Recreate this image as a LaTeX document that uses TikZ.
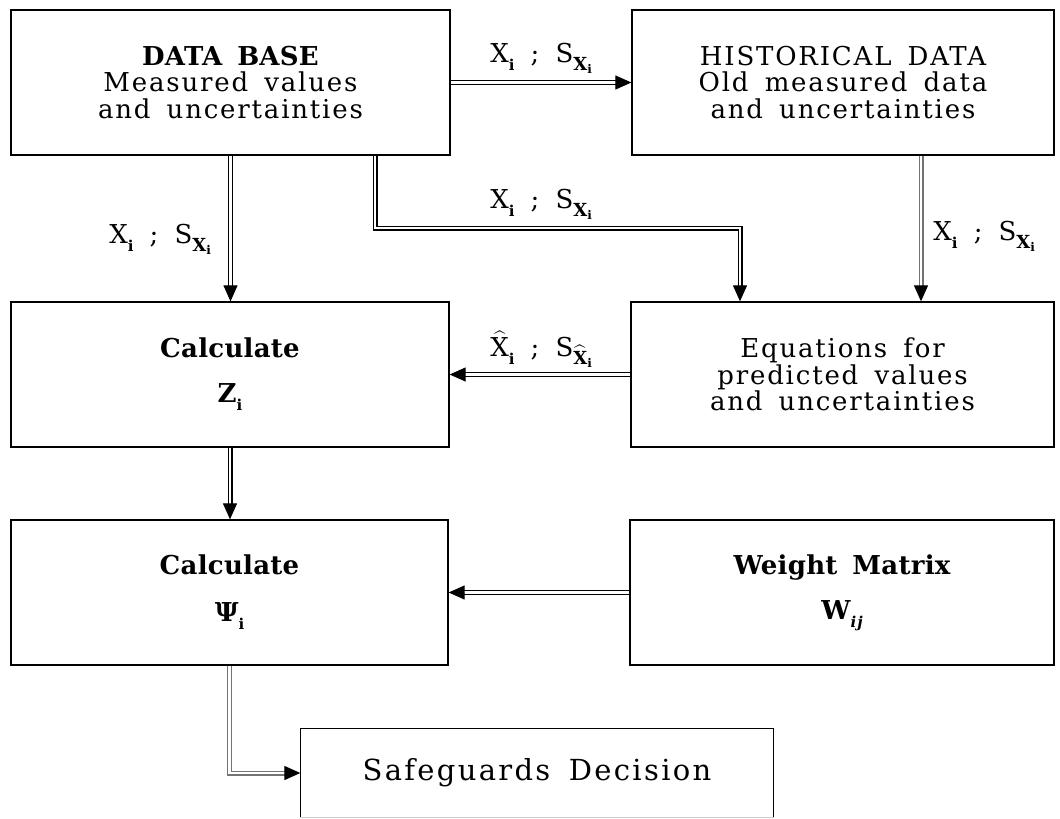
\documentclass[tikz,border=0pt]{standalone}
\usepackage{fontspec}
\setmainfont{DejaVu Serif}[LetterSpace=7, WordSpace=1.6]
\newfontfamily\hvy{DejaVu Serif Bold}[LetterSpace=1, WordSpace=1.6]
\usetikzlibrary{arrows.meta}
\newcommand\isub{\raisebox{-0.6ex}{\fontsize{7.5}{7.5}\selectfont\bfseries i}}
\newcommand\XiLab{X\isub}
\newcommand\SXi{S\raisebox{-0.6ex}{\fontsize{9}{9}\selectfont\bfseries X\raisebox{-0.35ex}{\fontsize{6}{6}\selectfont i}}}
\newcommand\HXiLab{$\widehat{\hbox{X}}$\isub}
\newcommand\SHXi{S\raisebox{-0.6ex}{\fontsize{9}{9}\selectfont\bfseries $\widehat{\hbox{X}}$\raisebox{-0.35ex}{\fontsize{6}{6}\selectfont i}}}
\tikzset{
  box/.style={draw=black, line width=0.65pt, rectangle, inner sep=0pt, align=center,
    font=\fontsize{13}{13.4}\selectfont},
  lab/.style={inner sep=0pt, anchor=base west, font=\fontsize{13}{13.4}\selectfont},
  dbl/.style={draw=black, line width=0.6pt, double=white, double distance=1.3pt,
    -{Triangle[length=8pt,width=7pt,color=black]}},
  dblgrey/.style={dbl, draw=black!55},
}
\begin{document}
\begin{tikzpicture}[x=0.5pt,y=-0.5pt]
\useasboundingbox[fill=white] (0,0) rectangle (1060,819);
% boxes
\node[box, minimum width=219.5pt, minimum height=72.5pt] (db) at (230.5,82.5)
  {{\hvy DATA BASE}\\Measured values\\and uncertainties};
\node[box, minimum width=211pt, minimum height=72.5pt] (hist) at (843,82.5)
  {HISTORICAL DATA\\Old measured data\\and uncertainties};
\node[box, minimum width=219pt, minimum height=72.5pt] (calcz) at (230,374.5)
  {{\hvy Calculate}\\[9pt]{\hvy Z}\isub};
\node[box, minimum width=211.5pt, minimum height=72.5pt] (eq) at (842.5,374.5)
  {Equations for\\predicted values\\and uncertainties};
\node[box, minimum width=218.5pt, minimum height=72.5pt] (psi) at (229.5,592.5)
  {{\hvy Calculate}\\[10pt]{\hvy Ψ}\isub};
\node[box, minimum width=212pt, minimum height=72.5pt] (wm) at (842,592.5)
  {{\hvy Weight Matrix}\\[9pt]{\hvy W}\raisebox{-0.6ex}{\fontsize{7.5}{7.5}\selectfont\bfseries\itshape ij}};
\node[box, draw=none, minimum width=236pt, minimum height=44pt,
  font=\fontsize{14.5}{16}\selectfont\addfontfeatures{LetterSpace=8}] (safe) at (537,773) {Safeguards Decision};
\draw[line width=0.65pt] (safe.south west) -- (safe.north west) -- (safe.north east) -- (safe.south east);
\draw[line width=0.65pt, black!20] (safe.south west) -- (safe.south east);
% junction coordinates
\coordinate (j1) at (375,228);
\coordinate (j2) at (740,228);
\coordinate (h1) at (921,228);
% connectors
\draw[dbl] (db) -- (hist);
\draw[dbl] (db.south) -- (db.south |- calcz.north);
\draw[dbl] (db.south -| j1) -- (j1) -- (j2) -- (eq.north -| j2);
\draw[dblgrey] (hist.south -| h1) -- (eq.north -| h1);
\draw[dbl] (eq) -- (calcz);
\draw[dbl] (calcz.south) -- (calcz.south |- psi.north);
\draw[dbl] (wm) -- (psi);
\draw[dblgrey] (psi.south) |- (safe.west);
% labels
\node[lab] (l1) at (490,62) {\XiLab\ ; \SXi};
\node[lab] (l2) at (490,208) {\XiLab\ ; \SXi};
\node[lab] (l3) at (109,243) {\XiLab\ ; \SXi};
\node[lab] (l4) at (933,240) {\XiLab\ ; \SXi};
\node[lab] (l5) at (490,356) {\HXiLab\ ; \SHXi};
\end{tikzpicture}
\end{document}
